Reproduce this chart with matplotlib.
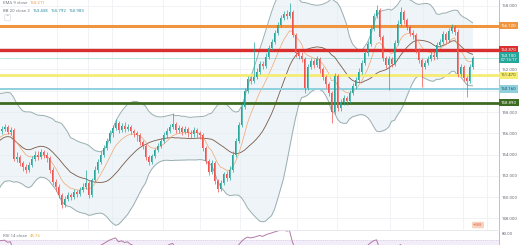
import numpy as np
import pandas as pd
import matplotlib.pyplot as plt

# ---- data ----
warmup_closes = [152.0, 153.0, 155.0, 157.0, 158.5, 159.0, 158.0, 157.5, 156.0, 154.0,
                 152.5, 151.5, 152.0, 153.0, 154.5, 155.5, 156.0, 156.5, 157.0, 156.2]

closes = [156.4, 156.6, 156.1, 156.3, 153.6, 153.8, 153.2, 152.8, 152.6, 153.0,
          153.6, 154.0, 153.8, 154.2, 154.0, 153.7, 152.6, 151.4, 151.0, 150.2,
          149.3, 149.8, 150.2, 150.0, 150.5, 150.3, 150.7, 151.0, 151.3, 150.2,
          151.6, 152.6, 153.3, 154.0, 154.6, 155.3, 156.0, 156.5, 157.0, 156.3,
          156.7, 156.4, 156.6, 156.2, 156.0, 155.8, 155.2, 154.8, 153.8, 153.3,
          153.9, 154.4, 154.8, 155.3, 155.8, 156.2, 156.6, 156.9, 156.3, 156.5,
          156.1, 156.4, 156.0, 155.9, 156.3, 156.0, 155.8, 154.6, 153.4, 152.4,
          153.2, 151.5, 150.8, 151.3, 152.2, 151.8, 152.6, 154.0, 155.3, 156.8,
          158.5, 160.0, 161.1, 160.9, 161.3, 161.8, 162.5, 162.3, 163.2, 164.0,
          164.6, 165.4, 166.2, 166.8, 167.2, 167.0, 167.4, 165.2, 163.5, 163.3,
          163.0, 160.3, 162.2, 162.8, 162.4, 163.0, 162.0, 161.3, 160.6, 159.8,
          158.0, 161.4, 158.4, 158.9, 159.3, 159.0, 159.8, 160.4, 161.0, 161.8,
          162.6, 163.5, 164.4, 165.8, 167.0, 167.6, 165.0, 163.1, 162.4, 163.0,
          162.5, 164.5, 166.3, 167.4, 166.6, 166.0, 165.4, 165.2, 163.8, 162.9,
          162.2, 162.6, 163.0, 163.4, 163.2, 164.3, 164.6, 165.3, 164.8, 165.6,
          166.0, 165.5, 161.6, 162.2, 161.2, 160.9, 162.2, 163.1]

highs = [156.7, 156.9, 156.8, 156.6, 156.5, 154.2, 154.0, 153.4, 153.1, 153.3,
         153.9, 154.3, 154.3, 154.5, 154.4, 154.2, 153.9, 152.8, 151.7, 151.2,
         150.4, 150.1, 150.5, 150.4, 150.8, 150.7, 151.0, 151.3, 152.6, 151.5,
         151.8, 152.9, 153.6, 154.3, 154.9, 155.6, 156.3, 156.8, 157.3, 157.2,
         157.0, 157.1, 156.9, 156.8, 156.4, 156.2, 156.0, 155.4, 155.0, 154.0,
         154.1, 154.6, 155.1, 155.6, 156.1, 156.5, 156.9, 157.9, 157.1, 156.8,
         156.7, 156.7, 156.6, 156.3, 156.6, 156.5, 156.2, 156.0, 154.8, 153.6,
         153.5, 153.4, 151.7, 151.6, 152.4, 152.5, 152.9, 154.3, 155.6, 157.1,
         158.8, 160.3, 161.4, 161.4, 164.6, 162.1, 162.8, 162.8, 163.5, 164.3,
         164.9, 165.7, 166.5, 167.1, 167.5, 167.6, 168.2, 167.6, 165.4, 163.8,
         163.6, 163.2, 162.5, 163.1, 163.0, 163.3, 163.2, 162.2, 161.5, 160.8,
         160.0, 161.7, 161.6, 159.2, 159.6, 159.5, 160.1, 160.7, 161.3, 162.1,
         162.9, 163.8, 164.7, 166.1, 167.3, 168.05, 167.8, 165.2, 163.3, 163.3,
         163.2, 164.8, 166.6, 167.9, 167.6, 166.8, 166.2, 165.7, 165.4, 164.0,
         163.1, 162.9, 163.3, 163.7, 163.7, 164.6, 164.9, 165.6, 165.5, 165.9,
         166.3, 166.2, 165.8, 162.5, 162.4, 161.4, 162.5, 163.3]

lows = [155.9, 156.2, 155.9, 155.8, 153.4, 153.3, 152.9, 152.5, 152.3, 152.4,
        152.8, 153.4, 153.5, 153.6, 153.7, 153.3, 152.3, 151.1, 150.6, 149.9,
        149.0, 149.1, 149.6, 149.7, 149.8, 150.0, 150.1, 150.5, 150.8, 149.9,
        150.0, 151.4, 152.3, 153.1, 153.8, 154.4, 155.1, 155.7, 156.3, 156.0,
        156.1, 156.1, 156.2, 155.9, 155.7, 155.3, 154.9, 154.5, 153.5, 153.0,
        153.1, 153.7, 154.2, 154.6, 155.1, 155.6, 156.0, 156.4, 156.0, 156.0,
        155.8, 155.9, 155.7, 155.6, 155.7, 155.7, 155.5, 154.3, 153.1, 152.1,
        152.2, 151.2, 150.5, 150.6, 151.1, 151.5, 151.6, 152.4, 153.8, 155.1,
        156.6, 158.3, 159.8, 160.6, 160.7, 161.1, 161.6, 162.0, 162.1, 163.0,
        163.8, 164.4, 165.2, 166.0, 166.6, 166.7, 166.8, 165.0, 163.2, 163.0,
        162.7, 159.8, 160.1, 162.0, 162.1, 162.2, 161.7, 161.0, 160.3, 159.5,
        157.0, 157.8, 158.1, 158.1, 158.7, 158.7, 158.8, 159.6, 160.2, 160.8,
        161.6, 162.4, 163.3, 164.2, 165.6, 166.8, 164.8, 162.8, 162.1, 160.1,
        162.2, 162.3, 164.3, 166.1, 166.3, 165.7, 165.1, 164.9, 163.5, 162.6,
        160.35, 162.0, 162.4, 162.8, 162.9, 163.0, 164.1, 164.4, 164.5, 164.6,
        165.4, 165.2, 161.3, 161.4, 160.9, 159.4, 160.7, 162.0]

level_prices = [166.12, 163.87, 161.47, 160.16, 158.89]
level_colors = ['#f0953f', '#d9302f', '#f5ec74', '#8fd0df', '#3d6b21']
level_text_colors = ['white', 'white', '#5a5a20', '#1f4f5e', 'white']
level_widths = [2.2, 2.4, 2.0, 1.4, 2.0]

price_ticks = [168, 162, 158, 156, 154, 152, 150, 148]
grid_ticks = [168, 166, 164, 162, 160, 158, 156, 154, 152, 150, 148]

legend_ema = '163.211'
legend_bb = ['163.438', '165.792', '160.983']
rsi_value = '45.76'
countdown = '07:13:17'

UP, DOWN = '#26a69a', '#ef5350'
FS = 3.2
FONT = 'Roboto'

# ---- indicators ----
all_closes = pd.Series(warmup_closes + closes)
n_warm = len(warmup_closes)
basis = all_closes.rolling(20).mean()
dev = all_closes.rolling(20).std(ddof=0)
upper = basis + 2 * dev
lower = basis - 2 * dev
ema9 = all_closes.ewm(span=9, adjust=False).mean()
delta = all_closes.diff()
gain = delta.clip(lower=0).ewm(alpha=1/14, adjust=False).mean()
loss = (-delta.clip(upper=0)).ewm(alpha=1/14, adjust=False).mean()
rsi = 100 - 100 / (1 + gain / loss)
xs_all = np.arange(len(all_closes)) - n_warm

opens = [warmup_closes[-1]] + closes[:-1]
x = np.arange(len(closes))

# ---- figure ----
fig = plt.figure(figsize=(5.2, 2.45), dpi=100)
ax = fig.add_axes([0, 15/245, 499/520, 230/245])
y_top, y_bot = 168.52, 146.92
ax.set_ylim(y_bot, y_top)
ax.set_xlim(-0.5, 165.83)

for g in grid_ticks:
    ax.axhline(g, color='#eef0f4', lw=0.6, zorder=0)
for vx in [57, 88, 112, 163, 200, 240, 297, 337, 390, 423, 463, 487]:
    ax.axvline((vx - 1.5) / 3, color='#eef0f4', lw=0.6, zorder=0)

ax.fill_between(xs_all, lower, upper, color='#e3edf3', alpha=0.6, lw=0, zorder=1)
ax.plot(xs_all, upper, color='#9aaeb0', lw=0.7, zorder=2)
ax.plot(xs_all, lower, color='#9aaeb0', lw=0.7, zorder=2)
ax.plot(xs_all, basis, color='#7a5a4a', lw=0.6, zorder=2)
ax.plot(xs_all, ema9, color='#f3a56f', lw=0.5, zorder=2)

for lp, lc, lw in zip(level_prices, level_colors, level_widths):
    ax.axhline(lp, color=lc, lw=lw, zorder=3)

col = [UP if c >= o else DOWN for o, c in zip(opens, closes)]
ax.vlines(x, lows, highs, colors=col, lw=0.5, zorder=4)
bottoms = np.minimum(opens, closes)
heights = np.maximum(np.abs(np.array(closes) - np.array(opens)), 0.06)
ax.bar(x, heights, bottom=bottoms, width=0.62, color=col, lw=0, zorder=5)

ax.axhline(closes[-1], color=UP, lw=0.4, ls=(0, (1, 1)), zorder=4)

ax.yaxis.tick_right()
ax.set_yticks(price_ticks)
ax.set_yticklabels([f'{t:.3f}' for t in price_ticks], fontsize=FS, color='#6a6d78',
                   family=FONT)
ax.tick_params(axis='y', length=0, pad=2)
ax.set_xticks([])
for s in ['top', 'left', 'bottom']:
    ax.spines[s].set_visible(False)
ax.spines['right'].set_color('#b2b5be')
ax.spines['right'].set_linewidth(0.6)


def px(xp, yp):
    return xp / 520, 1 - yp / 245


def price_y(p):
    return 15 + (p - y_bot) / (y_top - y_bot) * 230


renderer = fig.canvas.get_renderer()


def text_row(xp, yp, pieces, gap=2.5):
    # place text pieces one after another on a line
    for txt, c in pieces:
        t = fig.text(*px(xp, yp), txt, fontsize=FS, color=c, va='center', family=FONT)
        bb = t.get_window_extent(renderer)
        xp = bb.x1 + gap


# level labels on the price axis
for lp, lc, tc in zip(level_prices, level_colors, level_text_colors):
    fig.text(501 / 520, price_y(lp) / 245, f'{lp:.3f}', fontsize=FS, color=tc,
             va='center', ha='left', family=FONT,
             bbox=dict(boxstyle='square,pad=0.35', fc=lc, ec='none'))
fig.text(501 / 520, price_y(closes[-1]) / 245, f'{closes[-1]:.3f}\n{countdown}',
         fontsize=FS, color='white', va='center', ha='left', linespacing=1.1, family=FONT,
         bbox=dict(boxstyle='square,pad=0.35', fc=UP, ec='none'))

# legend texts
text_row(3, 3.5, [('EMA 9 close', '#787b86'), (legend_ema, '#f0953f')])
text_row(3, 10.5, [('BB 20 close 2', '#787b86')] + [(v, '#2a8fa0') for v in legend_bb])
fig.text(*px(7.5, 17.5), '^', fontsize=3, color='#787b86', va='center', ha='center',
         bbox=dict(boxstyle='round,pad=0.3', fc='white', ec='#d0d3da', lw=0.4))

# small marker near bottom right
fig.text(*px(478, 225), '+888', fontsize=3, color='#e0704a', va='center', ha='center',
         family=FONT, bbox=dict(boxstyle='round,pad=0.3', fc='#f8d3c0', ec='none'))

# ---- RSI pane ----
ax_r = fig.add_axes([0, 0, 499/520, 15/245])
ax_r.set_xlim(-0.5, 165.83)
ax_r.set_ylim(62.9, 84.3)
ax_r.axhspan(30, 70, color='#f3edf9', lw=0, zorder=0)
ax_r.axhline(70, color='#c9bfd6', lw=0.4, ls=(0, (2, 2)), zorder=1)
ax_r.plot(xs_all, rsi, color='#b07aa8', lw=0.7, zorder=2)
ax_r.yaxis.tick_right()
ax_r.set_yticks([80])
ax_r.set_yticklabels(['80.00'], fontsize=FS, color='#6a6d78', family=FONT)
ax_r.tick_params(axis='y', length=0, pad=2)
ax_r.set_xticks([])
for s in ['left', 'bottom']:
    ax_r.spines[s].set_visible(False)
ax_r.spines['top'].set_color('#e4e6eb')
ax_r.spines['top'].set_linewidth(0.6)
ax_r.spines['right'].set_color('#b2b5be')
ax_r.spines['right'].set_linewidth(0.6)
text_row(3, 236, [('RSI 14 close', '#787b86'), (rsi_value, '#e8b040')])

fig.savefig('out.png', dpi=100)
